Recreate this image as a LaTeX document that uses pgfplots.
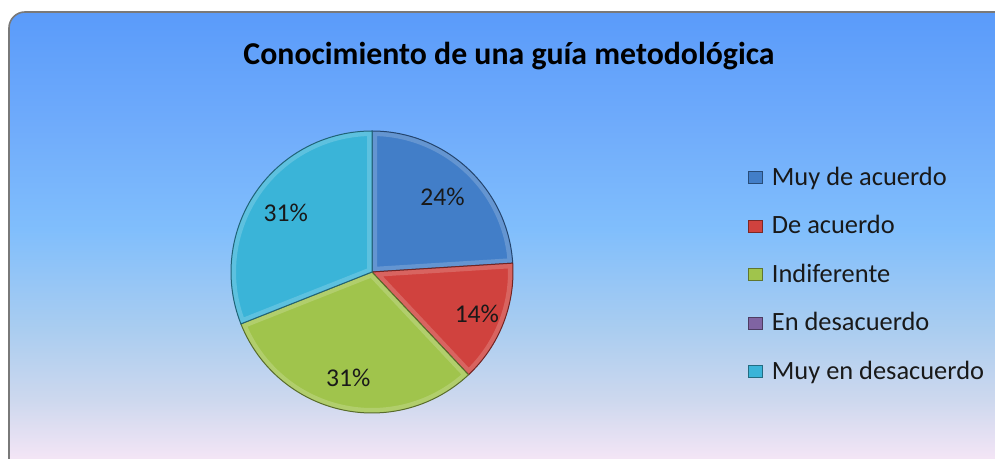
\documentclass[border=0pt]{standalone}
\usepackage{fontspec}
\setmainfont{Carlito}
\usepackage{pgfplots}
\usepackage{pgfplotstable}
\pgfplotsset{compat=1.18}

\definecolor{pc0}{RGB}{66,126,200}
\definecolor{pc1}{RGB}{208,66,62}
\definecolor{pc2}{RGB}{160,196,76}
\definecolor{pc3}{RGB}{128,100,162}
\definecolor{pc4}{RGB}{58,180,216}
\definecolor{bgA}{RGB}{90,155,250}
\definecolor{bgB}{RGB}{112,172,251}
\definecolor{bgC}{RGB}{128,190,252}
\definecolor{bgD}{RGB}{170,205,240}
\definecolor{bgE}{RGB}{205,216,238}
\definecolor{bgF}{RGB}{246,230,246}

% y positions in px (image) mapped: pos = 25 + 50*(475-y)/463
\pgfdeclareverticalshading{bgshade}{100bp}{%
  color(0bp)=(bgF); color(26.7bp)=(bgF); color(33.4bp)=(bgE);
  color(40.9bp)=(bgD); color(51.7bp)=(bgC); color(62.4bp)=(bgB);
  color(75bp)=(bgA); color(100bp)=(bgA)}

% value = percentage; lr = radial position of the data label (fraction of radius)
\pgfplotstableread[col sep=comma]{
label,value,lr
Muy de acuerdo,24,0.73
De acuerdo,14,0.80
Indiferente,31,0.77
En desacuerdo,0,0
Muy en desacuerdo,31,0.74
}\piedata

\begin{document}
\begin{tikzpicture}[x=0.5pt,y=-0.5pt]
\useasboundingbox (0,0) rectangle (995,459);
\clip (0,0) rectangle (995,459);
\shade[shading=bgshade,rounded corners=8pt] (9,12) rectangle (1012,478);
\draw[gray!95!black,line width=0.8pt,rounded corners=8pt] (9,12) rectangle (1012,478);
\node[font=\fontsize{15.9}{18}\selectfont\bfseries] at (509,56) {Conocimiento de una guía metodológica};
\coordinate (piecenter) at (372,272);
\begin{axis}[
  at={(piecenter)}, anchor=center,
  width=141pt, height=141pt, scale only axis,
  xmin=-1, xmax=1, ymin=-1, ymax=1,
  axis lines=none, clip=false,
  legend cell align=left,
  legend style={draw=none, fill=none, at={(1.811,0.896)}, anchor=north west,
    font=\fontsize{13.2}{15}\selectfont, row sep=11.6pt,
    nodes={inner sep=1pt, text=black!90}},
  legend image code/.code={\draw[#1] (0pt,-3pt) rectangle (7pt,3pt); \path (10.5pt,0pt);},
]
\addlegendimage{fill=pc0, draw=pc0!60!black, line width=0.4pt}
\addlegendimage{fill=pc1, draw=pc1!60!black, line width=0.4pt}
\addlegendimage{fill=pc2, draw=pc2!60!black, line width=0.4pt}
\addlegendimage{fill=pc3, draw=pc3!60!black, line width=0.4pt}
\addlegendimage{fill=pc4, draw=pc4!60!black, line width=0.4pt}
\legend{Muy de acuerdo, De acuerdo, Indiferente, En desacuerdo, Muy en desacuerdo}
\gdef\startangle{90}
\pgfplotsforeachungrouped \i in {0,...,4}{%
  \pgfplotstablegetelem{\i}{value}\of\piedata
  \let\val\pgfplotsretval
  \pgfplotstablegetelem{\i}{lr}\of\piedata
  \let\lr\pgfplotsretval
  \pgfmathsetmacro\endangle{\startangle-\val*3.6}
  \pgfmathsetmacro\midangle{(\startangle+\endangle)/2}
  \ifdim\val pt>0pt
    \edef\cmd{%
      \noexpand\fill[pc\i]
        (axis cs:0,0) -- (axis cs:{cos(\startangle)},{sin(\startangle)})
        arc[start angle=\startangle, end angle=\endangle, radius=70.5pt] -- cycle;
      \noexpand\begin{scope}
      \noexpand\clip (axis cs:0,0) -- (axis cs:{cos(\startangle)},{sin(\startangle)})
        arc[start angle=\startangle, end angle=\endangle, radius=70.5pt] -- cycle;
      \noexpand\draw[white, opacity=0.18, line width=5pt]
        (axis cs:0,0) -- (axis cs:{cos(\startangle)},{sin(\startangle)})
        arc[start angle=\startangle, end angle=\endangle, radius=70.5pt] -- cycle;
      \noexpand\end{scope}
      \noexpand\draw[pc\i!55!black, line width=0.5pt]
        (axis cs:0,0) -- (axis cs:{cos(\startangle)},{sin(\startangle)})
        arc[start angle=\startangle, end angle=\endangle, radius=70.5pt] -- cycle;
      \noexpand\node[font=\noexpand\fontsize{12.8}{14}\noexpand\selectfont, text=black!90]
        at (axis cs:{\lr*cos(\midangle)},{\lr*sin(\midangle)}) {\val\noexpand\%};}%
    \cmd
  \fi
  \global\let\startangle\endangle
}
\end{axis}
\end{tikzpicture}
\end{document}
